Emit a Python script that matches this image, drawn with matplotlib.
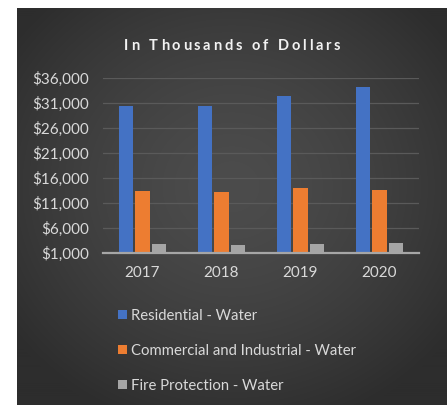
import numpy as np
import matplotlib
matplotlib.use("Agg")
import matplotlib.pyplot as plt
from matplotlib.patches import Patch
from matplotlib.ticker import FuncFormatter

# Water revenue by customer class, in thousands of dollars
years = ["2017", "2018", "2019", "2020"]
residential = [30400, 30400, 32300, 34100]
commercial = [13450, 13300, 14100, 13650]
fire_protection = [2850, 2700, 2850, 3100]
series_names = ["Residential - Water",
                "Commercial and Industrial - Water",
                "Fire Protection - Water"]
y_ticks = [1000, 6000, 11000, 16000, 21000, 26000, 31000, 36000]
title = "In Thousands of Dollars"

colors = ["#4472C4", "#ED7D31", "#A5A5A5"]
text_color = "#D9D9D9"
font = ["Lato", "DejaVu Sans"]

W, H = 448, 405
fig = plt.figure(figsize=(W / 100, H / 100), dpi=100, facecolor="white")

# dark panel with a soft radial glow
bg = fig.add_axes([17 / W, 0, (446 - 17) / W, (405 - 8) / H])
yy, xx = np.mgrid[0:1:400j, 0:1:430j]
r = np.sqrt(((xx - 0.5) / 0.75) ** 2 + ((yy - 0.45) / 0.75) ** 2)
shade = np.clip(76 - 40 * r ** 1.5, 45, 80) / 255.0
bg.imshow(np.dstack([shade] * 3), aspect="auto", extent=[0, 1, 0, 1],
          interpolation="bilinear")
bg.set_axis_off()

ax = fig.add_axes([103 / W, (H - 253.3) / H, 316 / W, (253.3 - 77.7) / H])
ax.set_facecolor("none")

x = np.arange(len(years))
width = 0.178
step = 0.209
for i, (vals, c, name) in enumerate(zip([residential, commercial, fire_protection],
                                        colors, series_names)):
    ax.bar(x + (i - 1) * step, vals, width=width, color=c, label=name, zorder=3)

ax.set_xlim(-0.5, len(years) - 0.5)
ax.set_ylim(y_ticks[0], y_ticks[-1])
ax.set_yticks(y_ticks)
ax.yaxis.set_major_formatter(FuncFormatter(lambda v, p: f"${v:,.0f}"))
ax.set_xticks(x)
ax.set_xticklabels(years)
ax.grid(axis="y", color="#5A5A5A", linewidth=0.9, zorder=0)
ax.tick_params(length=0, colors=text_color, labelsize=11)
ax.tick_params(axis="y", pad=10)
ax.tick_params(axis="x", pad=9)
for lab in ax.get_xticklabels() + ax.get_yticklabels():
    lab.set_fontfamily(font)
for s in ["left", "right", "top"]:
    ax.spines[s].set_visible(False)
ax.spines["bottom"].set_color("#A6A6A6")
ax.spines["bottom"].set_linewidth(1.6)
ax.spines["bottom"].set_zorder(4)

# letter-spaced bold title
renderer = fig.canvas.get_renderer()
tprops = dict(fontsize=10.5, fontweight="bold", color="#F2F2F2", family=font)
spacing = 2.7
widths = []
for ch in title:
    t = fig.text(0, 0, ch if ch != " " else "n", **tprops)
    w = t.get_window_extent(renderer).width
    if ch == " ":
        w *= 0.55
    widths.append(w)
    t.remove()
total = sum(widths) + spacing * (len(title) - 1)
xpos = 232 - total / 2
for ch, w in zip(title, widths):
    if ch != " ":
        fig.text(xpos / W, 1 - 46.5 / H, ch, va="center", ha="left", **tprops)
    xpos += w + spacing

handles = [Patch(facecolor=c, edgecolor="none") for c in colors]
leg = fig.legend(handles, series_names, loc="upper left",
                 bbox_to_anchor=(112 / W, 1 - 303 / H), frameon=False,
                 handlelength=0.6, handleheight=0.6, handletextpad=0.25,
                 labelspacing=1.4, borderaxespad=0,
                 prop={"family": font, "size": 10.7})
for t in leg.get_texts():
    t.set_color(text_color)

fig.savefig("out.png", dpi=100, facecolor="white")
